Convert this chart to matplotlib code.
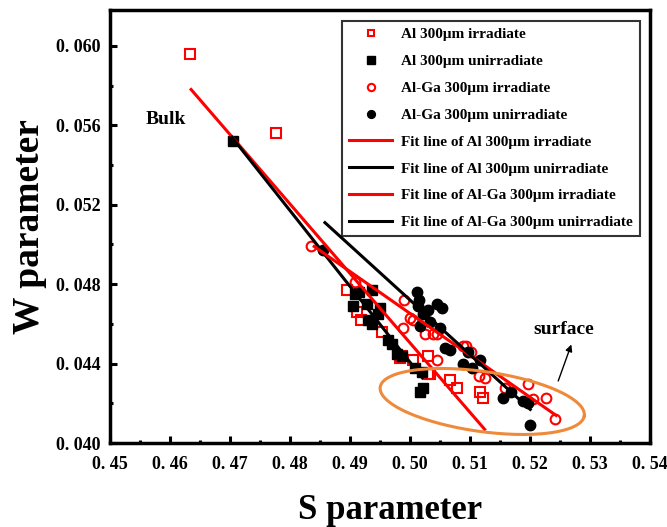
import matplotlib
matplotlib.use("Agg")
import matplotlib.pyplot as plt
import numpy as np
from matplotlib.ticker import MultipleLocator, FuncFormatter

# Al 300um irradiate (open red squares)
al_irr_s = [0.4633, 0.4777, 0.4894, 0.4912, 0.4918, 0.4953, 0.4983, 0.4986, 0.5004,
            0.5029, 0.5030, 0.5033, 0.5067, 0.5078, 0.5117, 0.5122]
al_irr_w = [0.0596, 0.0556, 0.0477, 0.0466, 0.0462, 0.0456, 0.0443, 0.0444, 0.0442,
            0.0444, 0.0435, 0.0435, 0.0432, 0.0428, 0.0426, 0.0423]

# Al 300um unirradiate (filled black squares)
al_unirr_s = [0.4705, 0.4905, 0.4908, 0.4915, 0.4928, 0.4937, 0.4930, 0.4936, 0.4947,
              0.4950, 0.4963, 0.4969, 0.4978, 0.4986, 0.5008, 0.5020, 0.5022, 0.5017]
al_unirr_w = [0.0552, 0.0469, 0.0475, 0.0476, 0.0470, 0.0477, 0.0462, 0.0460, 0.0465,
              0.0468, 0.0452, 0.0450, 0.0445, 0.0444, 0.0438, 0.0436, 0.0428, 0.0426]

# Al-Ga 300um irradiate (open red circles)
alga_irr_s = [0.4835, 0.4908, 0.4988, 0.4990, 0.5000, 0.5004, 0.5025, 0.5038, 0.5044,
              0.5044, 0.5088, 0.5093, 0.5101, 0.5115, 0.5124, 0.5158, 0.5197, 0.5204,
              0.5227, 0.5241]
alga_irr_w = [0.0499, 0.0481, 0.0458, 0.0472, 0.0463, 0.0462, 0.0455, 0.0455, 0.0455,
              0.0442, 0.0449, 0.0449, 0.0446, 0.0434, 0.0433, 0.0428, 0.0430, 0.0422,
              0.0423, 0.0412]

# Al-Ga 300um unirradiate (filled black circles)
alga_unirr_s = [0.4855, 0.5011, 0.5015, 0.5013, 0.5022, 0.5030, 0.5017, 0.5033, 0.5045,
                0.5053, 0.5050, 0.5058, 0.5067, 0.5097, 0.5088, 0.5103, 0.5117, 0.5154,
                0.5168, 0.5188, 0.5197, 0.5200]
alga_unirr_w = [0.0497, 0.0476, 0.0472, 0.0469, 0.0465, 0.0467, 0.0459, 0.0461, 0.0470,
                0.0468, 0.0458, 0.0448, 0.0447, 0.0446, 0.0440, 0.0438, 0.0442, 0.0423,
                0.0426, 0.0421, 0.0420, 0.0409]

# fit lines (end points)
fit_al_irr_s = [0.4635, 0.5124]
fit_al_irr_w = [0.0578, 0.0407]
fit_al_unirr_s = [0.4703, 0.5020]
fit_al_unirr_w = [0.0554, 0.0433]
fit_alga_irr_s = [0.4840, 0.5243]
fit_alga_irr_w = [0.0499, 0.0414]
fit_alga_unirr_s = [0.4858, 0.5200]
fit_alga_unirr_w = [0.0511, 0.0417]

plt.rcParams['font.family'] = ['Liberation Serif', 'DejaVu Serif']
plt.rcParams['font.weight'] = 'bold'

fig = plt.figure(figsize=(6.67, 5.27), dpi=100)
ax = fig.add_axes([0.165, 0.159, 0.81, 0.822])

ax.plot(al_irr_s, al_irr_w, 's', ms=6.5, mfc='none', mec='#ff0000', mew=1.5,
        ls='none', label='Al 300μm irradiate')
ax.plot(al_unirr_s, al_unirr_w, 's', ms=7, color='black',
        ls='none', label='Al 300μm unirradiate')
ax.plot(alga_irr_s, alga_irr_w, 'o', ms=7, mfc='none', mec='#ff0000', mew=1.5,
        ls='none', label='Al-Ga 300μm irradiate')
ax.plot(alga_unirr_s, alga_unirr_w, 'o', ms=7.5, color='black',
        ls='none', label='Al-Ga 300μm unirradiate')

ax.plot(fit_al_irr_s, fit_al_irr_w, color='#ff0000', lw=2.2,
        label='Fit line of Al 300μm irradiate')
ax.plot(fit_al_unirr_s, fit_al_unirr_w, color='black', lw=2.2,
        label='Fit line of Al 300μm unirradiate')
ax.plot(fit_alga_irr_s, fit_alga_irr_w, color='#ff0000', lw=2.2,
        label='Fit line of Al-Ga 300μm irradiate')
ax.plot(fit_alga_unirr_s, fit_alga_unirr_w, color='black', lw=2.2,
        label='Fit line of Al-Ga 300μm unirradiate')

ax.set_xlim(0.45, 0.54)
ax.set_ylim(0.040, 0.0618)

# tilted ellipse around surface points (drawn in pixel units, then mapped to data)
sx = 0.09 / 540.0
sy = 0.0218 / 433.0
t = np.linspace(0, 2 * np.pi, 200)
th = np.deg2rad(-8)
a_px, b_px = 103, 30
ex = 0.5120 + sx * (a_px * np.cos(t) * np.cos(th) - b_px * np.sin(t) * np.sin(th))
ey = 0.0421 + sy * (a_px * np.cos(t) * np.sin(th) + b_px * np.sin(t) * np.cos(th))
ax.plot(ex, ey, color='#ee8a3a', lw=2.2)

ax.annotate('', xy=(0.5270, 0.0451), xytext=(0.5245, 0.0430),
            arrowprops=dict(arrowstyle='-|>', color='black', lw=1, mutation_scale=10))
ax.text(0.5255, 0.0457, 'surface', ha='center', va='center', fontsize=14,
        fontweight='bold')
ax.text(0.4593, 0.0563, 'Bulk', ha='center', va='center', fontsize=14,
        fontweight='bold')

ax.xaxis.set_major_locator(MultipleLocator(0.01))
ax.xaxis.set_minor_locator(MultipleLocator(0.005))
ax.yaxis.set_major_locator(MultipleLocator(0.004))
ax.yaxis.set_minor_locator(MultipleLocator(0.002))
ax.xaxis.set_major_formatter(FuncFormatter(lambda v, p: ('%.2f' % v).replace('.', '. ')))
ax.yaxis.set_major_formatter(FuncFormatter(lambda v, p: ('%.3f' % v).replace('.', '. ')))
ax.tick_params(which='both', direction='in', width=2.2, labelsize=13, top=False, right=False)
ax.tick_params(which='major', length=5)
ax.tick_params(which='minor', length=2.5)
ax.tick_params(axis='x', which='major', pad=9)
ax.tick_params(axis='y', which='major', pad=7)
for lab in ax.get_xticklabels() + ax.get_yticklabels():
    lab.set_fontweight('bold')
for sp in ax.spines.values():
    sp.set_linewidth(2.5)

ax.set_xlabel('S parameter', fontsize=25, fontweight='bold', va='baseline')
ax.xaxis.set_label_coords(0.518, -0.175)
ax.set_ylabel('W parameter', fontsize=27, fontweight='bold', labelpad=6)

leg = ax.legend(loc='upper left', bbox_to_anchor=(0.43, 0.975), fontsize=11,
                frameon=True, fancybox=False, edgecolor='black', borderpad=0.45,
                handlelength=2.8, handletextpad=0.6, labelspacing=0.86,
                markerscale=0.75, borderaxespad=0)
leg.get_frame().set_linewidth(1.5)
for txt in leg.get_texts():
    txt.set_fontweight('bold')

fig.savefig('out.png', dpi=100)
